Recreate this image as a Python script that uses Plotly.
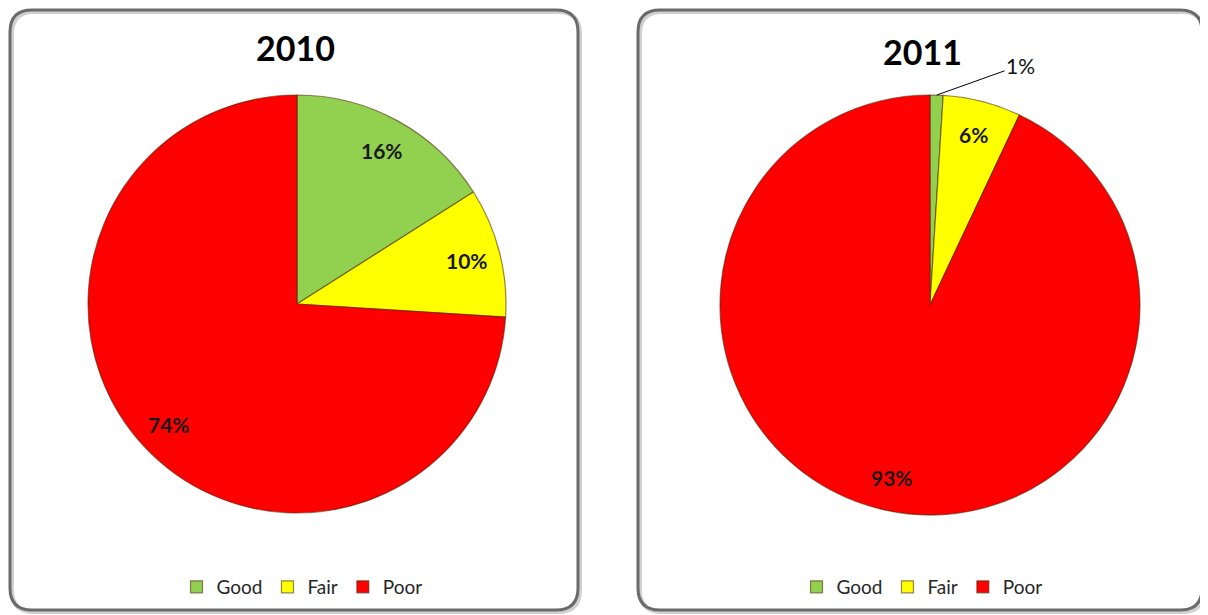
import math
import plotly.graph_objects as go

# ---------------- data ----------------
categories = ["Good", "Fair", "Poor"]
values_2010 = [16, 10, 74]
values_2011 = [1, 6, 93]
years = ["2010", "2011"]
colors = ["#92D050", "#FFFF00", "#FF0000"]

# ---------------- layout constants (pixels, in reference-image coordinates) ----------------
OX, OY = 8, 8            # page body margin offset of the plot div
W, H = 1208 - OX, 615 - OY
FONT = "Lato"
pies = [
    dict(values=values_2010, cx=297, cy=304, r=209, title_x=295, title_y=48,
         legend="legend", legend_x=302, suffix=""),
    dict(values=values_2011, cx=930, cy=305, r=210, title_x=922, title_y=51,
         legend="legend2", legend_x=922, suffix="\u200b"),
]
boxes = [(OX + 2, OY + 2, 578, 610), (638, OY + 2, 1202, 610)]


def px(x):
    return (x - OX) / W


def py(y):
    return 1 - (y - OY) / H


fig = go.Figure()
annotations = []

for i, p in enumerate(pies):
    cx, cy, r = p["cx"], p["cy"], p["r"]
    fig.add_trace(go.Pie(
        labels=[c + p["suffix"] for c in categories],
        values=p["values"],
        sort=False,
        direction="clockwise",
        rotation=0,
        marker=dict(colors=colors, line=dict(color="rgba(70,30,0,0.55)", width=1.2)),
        textinfo="none",
        hoverinfo="label+percent",
        domain=dict(x=[px(cx - r), px(cx + r)], y=[py(cy + r), py(cy - r)]),
        legend=p["legend"],
        showlegend=True,
        name=years[i],
    ))
    # title
    annotations.append(dict(
        text="<b>%s</b>" % years[i], x=px(p["title_x"]), y=py(p["title_y"]),
        xref="paper", yref="paper", showarrow=False,
        xanchor="center", yanchor="middle",
        font=dict(family=FONT, size=34, color="#000000"),
    ))
    # data labels
    total = sum(p["values"])
    cum = 0
    for j, v in enumerate(p["values"]):
        frac = v / total
        mid = (cum + frac / 2) * 2 * math.pi
        cum += frac
        label = "%d%%" % round(frac * 100)
        if frac < 0.03:
            ex = cx + r * math.sin(mid)
            ey = cy - r * math.cos(mid)
            annotations.append(dict(
                text=label, x=px(ex), y=py(ey), xref="paper", yref="paper",
                showarrow=True, arrowhead=0, arrowwidth=1, arrowcolor="#000000",
                ax=84, ay=-30, xanchor="center", yanchor="middle",
                font=dict(family=FONT, size=21, color="#111111"),
            ))
        else:
            rr = 0.84 * r
            lx = cx + rr * math.sin(mid)
            ly = cy - rr * math.cos(mid)
            annotations.append(dict(
                text="<b>%s</b>" % label, x=px(lx), y=py(ly), xref="paper", yref="paper",
                showarrow=False, xanchor="center", yanchor="middle",
                font=dict(family=FONT, size=21, color="#1a1a1a"),
            ))


def rrect(x0, y0, x1, y1, rad):
    rx, ry = rad / W, rad / H
    X0, X1 = px(x0), px(x1)
    Y0, Y1 = py(y0), py(y1)  # Y0 top (larger), Y1 bottom
    return (
        f"M {X0 + rx},{Y0} L {X1 - rx},{Y0} Q {X1},{Y0} {X1},{Y0 - ry} "
        f"L {X1},{Y1 + ry} Q {X1},{Y1} {X1 - rx},{Y1} "
        f"L {X0 + rx},{Y1} Q {X0},{Y1} {X0},{Y1 + ry} "
        f"L {X0},{Y0 - ry} Q {X0},{Y0} {X0 + rx},{Y0} Z"
    )


shapes = []
for (x0, y0, x1, y1) in boxes:
    shapes.append(dict(type="path", path=rrect(x0 + 2, y0 + 2, x1 + 2, y1 + 2, 22),
                       xref="paper", yref="paper",
                       line=dict(color="#d0d0d0", width=4), layer="below"))
    shapes.append(dict(type="path", path=rrect(x0, y0, x1, y1, 22),
                       xref="paper", yref="paper",
                       line=dict(color="#6a6a6a", width=3), layer="below"))

legend_common = dict(
    orientation="h", xanchor="center", yanchor="middle",
    font=dict(family=FONT, size=19, color="#262626"),
    bgcolor="rgba(0,0,0,0)", itemclick=False, itemdoubleclick=False,
)

fig.update_layout(
    width=W, height=H,
    margin=dict(l=0, r=0, t=0, b=0),
    paper_bgcolor="white",
    plot_bgcolor="white",
    annotations=annotations,
    shapes=shapes,
    legend=dict(x=px(pies[0]["legend_x"]), y=py(587), **legend_common),
    legend2=dict(x=px(pies[1]["legend_x"]), y=py(587), **legend_common),
)

fig.write_html("out.html")
